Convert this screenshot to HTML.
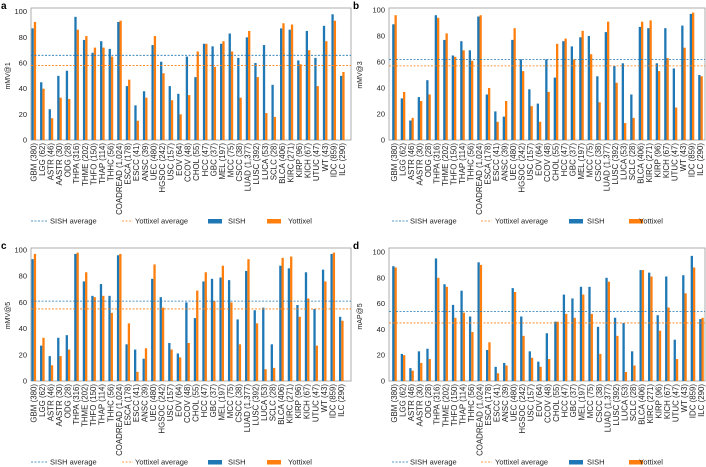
<!DOCTYPE html>
<html><head><meta charset="utf-8"><style>
html,body{margin:0;padding:0;background:#fff;}
svg{display:block;font-family:"Liberation Sans",sans-serif;}
</style></head><body>
<svg id="chart" width="706" height="467" viewBox="0 0 706 467" xmlns="http://www.w3.org/2000/svg"></svg>
<script>
const categories = ["GBM (380)","LGG (62)","ASTR (46)","AASTR (30)","ODG (28)","THPA (316)","THME (202)","THFO (150)","THAP (114)","THHC (56)","COADREAD (1,024)","ESCA (178)","ESCC (41)","ANSC (39)","UEC (480)","HGSOC (242)","USC (157)","EOV (64)","CCOV (48)","CHOL (55)","HCC (47)","GBC (37)","MEL (197)","MCC (75)","CSCC (38)","LUAD (1,377)","LUSC (392)","LUCA (53)","SCLC (28)","BLCA (406)","KIRC (271)","KIRP (96)","KICH (67)","UTUC (47)","WT (43)","IDC (859)","ILC (290)"];
const yTicks = [0,20,40,60,80,100];
const sishA = [87,45,24,50,54,96,78,68,77,71,92,42,27,38,74,61,42,36,65,49,75,73,75,83,64,80,60,74,43,87,86,62,85,64,89,98,50];
const yotA  = [92,40,17,33,32,86,81,72,72,65,93,47,15,33,81,52,31,20,35,69,75,57,77,69,33,85,49,21,18,91,90,59,70,42,77,93,53];
const sishB = [89,32,15,33,46,96,77,65,76,69,95,35,22,18,77,62,39,28,62,48,76,72,79,80,49,83,57,59,35,87,86,59,86,55,88,97,50];
const yotB  = [96,37,17,30,35,94,82,64,69,61,96,40,14,30,86,53,26,14,37,74,78,62,84,66,29,91,44,13,17,91,92,53,63,25,71,98,49];
const sishC = [93,27,19,33,35,97,76,65,74,65,96,28,24,17,78,64,29,21,60,48,76,78,79,77,47,84,54,56,28,88,86,58,83,55,85,97,49];
const yotC  = [97,33,12,19,24,98,83,64,65,52,97,44,7,25,89,56,24,18,29,69,83,61,88,60,28,93,44,9,10,94,95,49,63,27,76,98,46];
const sishD = [89,21,10,23,25,95,75,59,70,50,92,24,11,14,72,50,23,15,37,46,67,64,73,73,42,80,49,45,23,86,84,51,81,32,82,97,48];
const yotD  = [88,20,8,14,17,80,73,49,53,38,90,30,6,12,69,35,18,11,17,46,52,49,67,52,21,77,35,7,12,86,81,39,57,17,68,88,49];
const averagesA = [66,58];
const averagesB = [62,57];
const averagesC = [61,55];
const averagesD = [54,45];

const NS="http://www.w3.org/2000/svg";
const svg=document.getElementById('chart');
const BLUE="#1f77b4", ORANGE="#ff7f0e";
function mk(tag,attrs,parent){const e=document.createElementNS(NS,tag);for(const k in attrs)e.setAttribute(k,attrs[k]);(parent||svg).appendChild(e);return e;}

const panels=[
 {id:'a',ylab:'mMV@1',s:sishA,o:yotA,av:averagesA,bx0:31,bx1:351,btop:8,y100:11.7,y0:140,c0:33.8,c1:342.3,lx:0,ly:221,leg:[31,50,128,135,208,228,267,288]},
 {id:'b',ylab:'mMV@3',s:sishB,o:yotB,av:averagesB,bx0:389,bx1:705,btop:8,y100:10,y0:140,c0:394.5,c1:700.5,lx:352,ly:221,leg:[392,410,487,495,569,587,629,639]},
 {id:'c',ylab:'mMV@5',s:sishC,o:yotC,av:averagesC,bx0:31,bx1:351,btop:248,y100:250,y0:381,c0:33.8,c1:341.3,lx:0,ly:462,leg:[31,50,128,135,208,228,267,288]},
 {id:'d',ylab:'mAP@5',s:sishD,o:yotD,av:averagesD,bx0:389,bx1:705,btop:248,y100:252,y0:381,c0:394.5,c1:701.5,lx:352,ly:462,leg:[392,410,487,495,569,587,629,639]}
];

panels.forEach(p=>{
  const g=mk('g',{});
  
  
  const ys=v=>p.y0-(p.y0-p.y100)*v/100;
  const xs=i=>p.c0+(p.c1-p.c0)*i/(categories.length-1);
  const letter=mk('text',{x:p.lx+1,y:p.btop+1,'font-size':10,'font-weight':'bold',fill:'#000'},g);
  letter.textContent=p.id;
  
  
  const box=mk('rect',{x:p.bx0,y:p.btop,width:p.bx1-p.bx0,height:p.y0-p.btop,fill:'none',stroke:'#999','stroke-width':0.8},g);
  
  
  yTicks.forEach(t=>{
    const tl=mk('text',{x:p.bx0-4,y:ys(t)+2.5,'font-size':7.5,'text-anchor':'end',fill:'#222'},g);
    tl.textContent=t;
    
    
  });
  const yt=mk('text',{x:0,y:0,'font-size':7,'text-anchor':'middle',fill:'#222',transform:`translate(${p.lx+10},${(p.y0+p.y100)/2}) rotate(-90)`},g);
  yt.textContent=p.ylab;
  
  
  const bw=2.3;
  categories.forEach((c,i)=>{
    const cx=xs(i);
    const b1=mk('rect',{x:cx-bw,y:ys(p.s[i]),width:bw,height:ys(0)-ys(p.s[i]),fill:BLUE},g);
    
    
    const b2=mk('rect',{x:cx,y:ys(p.o[i]),width:bw,height:ys(0)-ys(p.o[i]),fill:ORANGE},g);
    
    
    const lab=mk('text',{x:0,y:0,'font-size':7.9,'text-anchor':'end',fill:'#222',transform:`translate(${cx+2.6},${p.y0+3}) rotate(-90)`},g);
    lab.textContent=c;
    
    
  });
  const l1=mk('line',{x1:p.bx0,x2:p.bx1,y1:ys(p.av[0]),y2:ys(p.av[0]),stroke:BLUE,'stroke-width':0.8,'stroke-dasharray':'2,1.5'},g);
  
  
  const l2=mk('line',{x1:p.bx0,x2:p.bx1,y1:ys(p.av[1]),y2:ys(p.av[1]),stroke:ORANGE,'stroke-width':0.8,'stroke-dasharray':'2,1.5'},g);
  
  
  const L=p.leg, ly=p.ly;
  const lg=mk('g',{},g);
  
  
  const e1=mk('line',{x1:L[0],x2:L[0]+16,y1:ly,y2:ly,stroke:BLUE,'stroke-width':0.8,'stroke-dasharray':'2,1.5'},lg);
  
  
  const t1=mk('text',{x:L[1],y:ly+2.5,'font-size':7.5,fill:'#222'},lg);t1.textContent='SISH average';
  
  
  const e2=mk('line',{x1:L[2]-6,x2:L[2]+5,y1:ly,y2:ly,stroke:ORANGE,'stroke-width':0.8,'stroke-dasharray':'2,1.5'},lg);
  
  
  const t2=mk('text',{x:L[3],y:ly+2.5,'font-size':7.5,fill:'#222'},lg);t2.textContent='Yottixel average';
  
  
  const e3=mk('rect',{x:L[4],y:ly-2,width:14,height:4.5,fill:BLUE},lg);
  
  
  const t3=mk('text',{x:L[5],y:ly+2.5,'font-size':7.5,fill:'#222'},lg);t3.textContent='SISH';
  
  
  const e4=mk('rect',{x:L[6],y:ly-2,width:14,height:4.5,fill:ORANGE},lg);
  
  
  const t4=mk('text',{x:L[7],y:ly+2.5,'font-size':7.5,fill:'#222'},lg);t4.textContent='Yottixel';
  
  
});
</script>
</body></html>
